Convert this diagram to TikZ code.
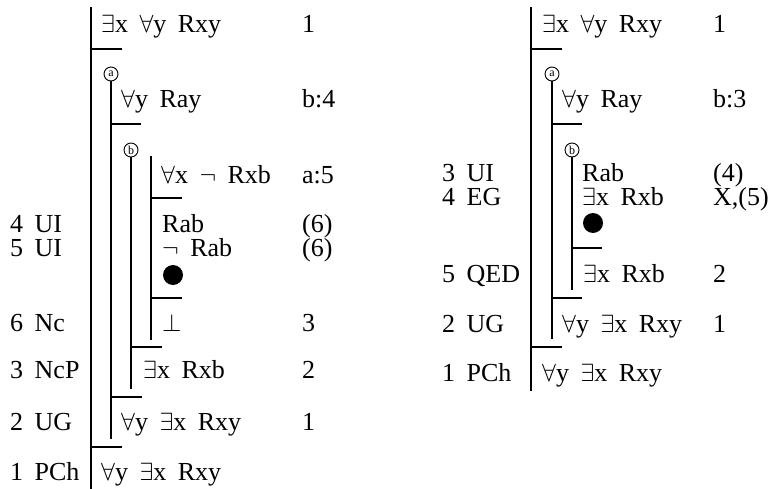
\documentclass[tikz,border=0pt]{standalone}
\usepackage{fontspec}
\setmainfont{Liberation Serif}
\newcommand{\widespaces}{\spaceskip=11.5pt\relax}
\begin{document}
\begin{tikzpicture}[x=1pt,y=-1pt,
  txt/.style={anchor=base west,inner sep=0pt,font=\fontsize{26}{30}\selectfont,execute at begin node=\widespaces},
  rule/.style={line width=1.6pt},
  bar/.style={line width=1.6pt},
  lbl/.style={circle,draw,line width=0.9pt,inner sep=0pt,minimum size=14pt,font=\fontsize{12}{13}\selectfont},
  dot/.style={circle,fill=black,inner sep=0pt,minimum size=20pt}]
\useasboundingbox (0,0) rectangle (775,489);
\newcommand{\EX}{$\exists$}
\newcommand{\FA}{$\forall$}
% ================= LEFT =================
\coordinate (L0t) at (91,7); \coordinate (L0b) at (91,489);
\draw[rule] (L0t) -- (L0b);
\node[txt] (l1) at (101,33) {\EX x \FA y Rxy};
\node[txt] (l1r) at (302,33) {1};
\coordinate (b1s) at (91,49); \coordinate (b1e) at (122,49);
\draw[bar] (b1s) -- (b1e);
\node[lbl] (ca) at (111,74) {a};
\coordinate (LAb) at (111,439);
\draw[rule] (ca.south) -- (LAb);
\node[txt] (l2) at (121,108) {\FA y Ray};
\node[txt] (l2r) at (302,108) {b:4};
\coordinate (b2s) at (111,124); \coordinate (b2e) at (141,124);
\draw[bar] (b2s) -- (b2e);
\node[lbl] (cb) at (131,150) {b};
\coordinate (LBb) at (131,389);
\draw[rule] (cb.south) -- (LBb);
\coordinate (LCt) at (151,156); \coordinate (LCb) at (151,340);
\draw[rule] (LCt) -- (LCb);
\node[txt] (l3) at (161,183) {\FA x $\neg$ Rxb};
\node[txt] (l3r) at (302,183) {a:5};
\coordinate (b3s) at (151,198); \coordinate (b3e) at (182,198);
\draw[bar] (b3s) -- (b3e);
\node[txt] (l4j) at (10,232) {4 UI};
\node[txt] (l4) at (162,232) {Rab};
\node[txt] (l4r) at (302,232) {(6)};
\node[txt] (l5j) at (10,256) {5 UI};
\node[txt] (l5) at (162,256) {$\neg$ Rab};
\node[txt] (l5r) at (302,256) {(6)};
\node[dot] (ld) at (173,275) {};
\coordinate (b4s) at (151,298); \coordinate (b4e) at (182,298);
\draw[bar] (b4s) -- (b4e);
\node[txt] (l6j) at (10,331) {6 Nc};
\node[txt] (l6) at (162,331) {$\bot$};
\node[txt] (l6r) at (302,331) {3};
\coordinate (b5s) at (131,347); \coordinate (b5e) at (162,347);
\draw[bar] (b5s) -- (b5e);
\node[txt] (l7j) at (10,378) {3 NcP};
\node[txt] (l7) at (143,378) {\EX x Rxb};
\node[txt] (l7r) at (302,378) {2};
\coordinate (b6s) at (111,397); \coordinate (b6e) at (142,397);
\draw[bar] (b6s) -- (b6e);
\node[txt] (l8j) at (10,430) {2 UG};
\node[txt] (l8) at (121,430) {\FA y \EX x Rxy};
\node[txt] (l8r) at (302,430) {1};
\coordinate (b7s) at (91,447); \coordinate (b7e) at (122,447);
\draw[bar] (b7s) -- (b7e);
\node[txt] (l9j) at (10,480) {1 PCh};
\node[txt] (l9) at (101,480) {\FA y \EX x Rxy};
% ================= RIGHT =================
\coordinate (R0t) at (531,7); \coordinate (R0b) at (531,391);
\draw[rule] (R0t) -- (R0b);
\node[txt] (r1) at (542,33) {\EX x \FA y Rxy};
\node[txt] (r1r) at (713,33) {1};
\coordinate (c1s) at (531,49); \coordinate (c1e) at (562,49);
\draw[bar] (c1s) -- (c1e);
\node[lbl] (ra) at (552,74) {a};
\coordinate (RAb) at (552,339);
\draw[rule] (ra.south) -- (RAb);
\node[txt] (r2) at (562,108) {\FA y Ray};
\node[txt] (r2r) at (713,108) {b:3};
\coordinate (c2s) at (552,124); \coordinate (c2e) at (582,124);
\draw[bar] (c2s) -- (c2e);
\node[lbl] (rb) at (572,150) {b};
\coordinate (RBb) at (572,290);
\draw[rule] (rb.south) -- (RBb);
\node[txt] (r3j) at (442,181) {3 UI};
\node[txt] (r3) at (582,181) {Rab};
\node[txt] (r3r) at (713,181) {(4)};
\node[txt] (r4j) at (442,205) {4 EG};
\node[txt] (r4) at (582,205) {\EX x Rxb};
\node[txt] (r4r) at (713,205) {X,(5)};
\node[dot] (rd) at (593,223) {};
\coordinate (c3s) at (572,248); \coordinate (c3e) at (602,248);
\draw[bar] (c3s) -- (c3e);
\node[txt] (r5j) at (442,282) {5 QED};
\node[txt] (r5) at (583,282) {\EX x Rxb};
\node[txt] (r5r) at (713,282) {2};
\coordinate (c4s) at (552,298); \coordinate (c4e) at (582,298);
\draw[bar] (c4s) -- (c4e);
\node[txt] (r6j) at (442,332) {2 UG};
\node[txt] (r6) at (562,332) {\FA y \EX x Rxy};
\node[txt] (r6r) at (713,332) {1};
\coordinate (c5s) at (531,347); \coordinate (c5e) at (562,347);
\draw[bar] (c5s) -- (c5e);
\node[txt] (r7j) at (442,381) {1 PCh};
\node[txt] (r7) at (542,381) {\FA y \EX x Rxy};
\end{tikzpicture}
\end{document}
